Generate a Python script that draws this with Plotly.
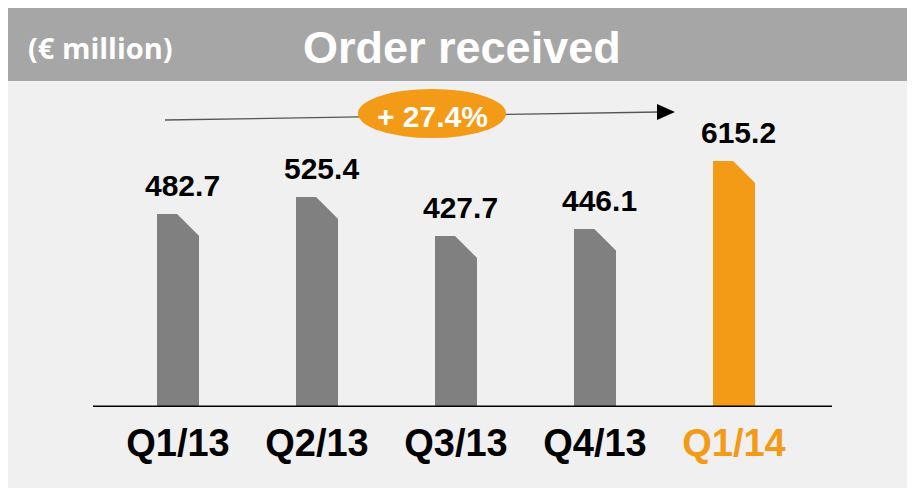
import plotly.graph_objects as go

# ---- data ----
categories = ["Q1/13", "Q2/13", "Q3/13", "Q4/13", "Q1/14"]
values = [482.7, 525.4, 427.7, 446.1, 615.2]
value_labels = ["482.7", "525.4", "427.7", "446.1", "615.2"]
growth_label = "+ 27.4%"
title_text = "Order received"
unit_text = "(€ million)"

# ---- styling ----
GRAY_BAR = "#808080"
ORANGE = "#F39A16"
HEADER = "#A6A6A6"
BG = "#F0F0F0"
W, H = 915, 488
OFF = 8               # page body margin (screen px)
AXIS_SCREEN = 407
PH = AXIS_SCREEN - OFF   # plot height in px
MB = H - PH              # bottom margin

bar_colors = [GRAY_BAR] * (len(values) - 1) + [ORANGE]
xs = list(range(len(categories)))

# x scale: category i at screen pixel 178 + 139*i
x0px, dxpx = 178.0 - OFF, 139.0
xr = [(0 - x0px) / dxpx, (W - x0px) / dxpx]
k = 0.40  # px per unit
yr = [0, PH / k]

bar_w = 42 / dxpx
cham_w = 22 / dxpx       # chamfer horizontal (data x)
cham_h = 22 / k          # chamfer vertical (data y)


def px(xs_):
    return (xs_ - OFF) / W


def py(ys_):
    return 1 - (ys_ - OFF) / PH


fig = go.Figure()
fig.add_trace(go.Bar(
    x=xs, y=values, width=bar_w,
    marker=dict(color=bar_colors, line=dict(width=0)),
    hoverinfo="skip", showlegend=False,
))

# chamfer cut (top-right corner) in background colour
ext = 0.012
for x, v in zip(xs, values):
    xa = x + bar_w / 2 - cham_w
    xb = x + bar_w / 2
    dy = ext * cham_h / cham_w
    fig.add_trace(go.Scatter(
        x=[xa - ext, xb + ext, xb + ext, xa - ext],
        y=[v + dy, v + dy, v - cham_h - dy, v + dy],
        fill="toself", fillcolor=BG, mode="lines",
        line=dict(width=0, color=BG), hoverinfo="skip", showlegend=False,
    ))

# value labels
for x, v, t in zip(xs, values, value_labels):
    fig.add_annotation(
        x=x, y=v, text=f"<b>{t}</b>", showarrow=False,
        yanchor="middle", yshift=28, xshift=4,
        font=dict(family="Arial, Liberation Sans", size=30, color="black"),
    )

ticktext = [f"<b>{c}</b>" for c in categories[:-1]] + \
    [f"<b><span style='color:{ORANGE}'>{categories[-1]}</span></b>"]

shapes = [
    # header band
    dict(type="rect", xref="paper", yref="paper", x0=-0.01, x1=1.01, y0=py(81), y1=1.01,
         fillcolor=HEADER, line=dict(width=0), layer="below"),
    # baseline
    dict(type="line", xref="paper", yref="y", x0=px(93), x1=px(832), y0=0, y1=0,
         line=dict(color="black", width=3), layer="above"),
    # growth arrow line
    dict(type="line", xref="paper", yref="paper", x0=px(165), y0=py(120), x1=px(660), y1=py(112),
         line=dict(color="#555555", width=1.3), layer="above"),
    # arrow head
    dict(type="path", xref="paper", yref="paper",
         path=f"M {px(657)} {py(104)} L {px(675)} {py(112)} L {px(657)} {py(120)} Z",
         fillcolor="black", line=dict(width=0), layer="above"),
    # pill
    dict(type="circle", xref="paper", yref="paper", x0=px(358), x1=px(506), y0=py(138), y1=py(89),
         fillcolor=ORANGE, line=dict(width=0), layer="above"),
]

annotations_extra = [
    dict(x=px(462), y=py(47), xref="paper", yref="paper", text=f"<b>{title_text}</b>",
         showarrow=False, xanchor="center", yanchor="middle",
         font=dict(family="Arial, Liberation Sans", size=45, color="white")),
    dict(x=px(100), y=py(47), xref="paper", yref="paper", text=f"<b>{unit_text}</b>",
         showarrow=False, xanchor="center", yanchor="middle",
         font=dict(family="Open Sans", size=29, color="white")),
    dict(x=px(432), y=py(117), xref="paper", yref="paper", text=f"<b>{growth_label}</b>",
         showarrow=False, xanchor="center", yanchor="middle",
         font=dict(family="Arial, Liberation Sans", size=30, color="white")),
]
for a in annotations_extra:
    fig.add_annotation(**a)

fig.update_layout(
    width=W, height=H, autosize=False,
    margin=dict(l=0, r=0, t=0, b=MB, pad=0),
    paper_bgcolor=BG, plot_bgcolor=BG,
    shapes=shapes, showlegend=False, bargap=0,
    xaxis=dict(range=xr, tickmode="array", tickvals=xs, ticktext=ticktext,
               showgrid=False, zeroline=False, showline=False, ticks="",
               ticklabelstandoff=10,
               tickfont=dict(family="Arial, Liberation Sans", size=38, color="black"),
               fixedrange=True),
    yaxis=dict(range=yr, visible=False, showgrid=False, zeroline=False, fixedrange=True),
)

fig.write_html("out.html", config={"displayModeBar": False})
